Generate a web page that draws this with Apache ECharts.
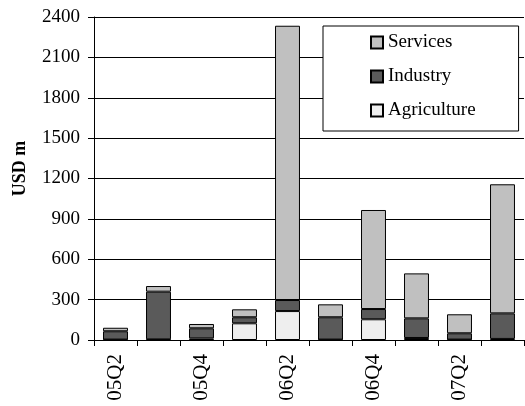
<!DOCTYPE html>
<html><head><meta charset="utf-8">
<script src="https://cdn.jsdelivr.net/npm/echarts@6/dist/echarts.min.js"></script>
<style>html,body{margin:0;padding:0;background:#fff}#c{width:525px;height:406px}</style>
</head><body><div id="c"></div>
<script>
const categories = ['05Q2','05Q3','05Q4','06Q1','06Q2','06Q3','06Q4','07Q1','07Q2','07Q3'];
const agriculture = [3, 5, 12, 124, 215, 3, 154, 15, 3, 8];
const industry = [62, 354, 75, 45, 82, 166, 76, 146, 47, 190];
const services = [26, 42, 32, 59, 2038, 96, 736, 334, 141, 959];
const yTicks = [0, 300, 600, 900, 1200, 1500, 1800, 2100, 2400];

const font = "'Liberation Serif','Times New Roman',serif";
const chart = echarts.init(document.getElementById('c'), null, {renderer: 'canvas'});
const border = {borderColor: '#000', borderWidth: 1};
chart.setOption({
  animation: false,
  backgroundColor: '#fff',
  grid: {left: 94, top: 17, right: 1, bottom: 66},
  legend: {
    orient: 'vertical', left: 323, top: 26,
    data: ['Services', 'Industry', 'Agriculture'],
    itemWidth: 12, itemHeight: 12, itemGap: 15, icon: 'rect',
    padding: [7, 43, 11, 47],
    borderColor: '#000', borderWidth: 1, backgroundColor: '#fff',
    textStyle: {fontFamily: font, fontSize: 19, color: '#000'}
  },
  xAxis: {
    type: 'category', data: categories,
    axisLine: {lineStyle: {color: '#000', width: 1}},
    axisTick: {show: true, interval: 0, length: 6, lineStyle: {color: '#000'}},
    axisLabel: {interval: 1, rotate: 90, margin: 14, fontFamily: font, fontSize: 21, color: '#000'}
  },
  yAxis: {
    type: 'value', min: yTicks[0], max: yTicks[yTicks.length-1], interval: 300,
    name: 'USD m', nameLocation: 'middle', nameGap: 65, nameRotate: 90,
    nameTextStyle: {fontFamily: font, fontSize: 18, fontWeight: 'bold', color: '#000', padding: [0, 0, 0, 20]},
    axisLine: {show: true, lineStyle: {color: '#000'}},
    axisTick: {show: true, length: 6, lineStyle: {color: '#000'}},
    axisLabel: {margin: 14, fontFamily: font, fontSize: 19, color: '#000', formatter: v => String(v)},
    splitLine: {show: true, lineStyle: {color: '#000', width: 1}}
  },
  series: [
    {name: 'Agriculture', type: 'bar', stack: 's', data: agriculture, barWidth: '58%',
     itemStyle: Object.assign({color: '#eeeeee'}, border)},
    {name: 'Industry', type: 'bar', stack: 's', data: industry,
     itemStyle: Object.assign({color: '#5a5a5a'}, border)},
    {name: 'Services', type: 'bar', stack: 's', data: services,
     itemStyle: Object.assign({color: '#c0c0c0'}, border)}
  ]
});
</script></body></html>
